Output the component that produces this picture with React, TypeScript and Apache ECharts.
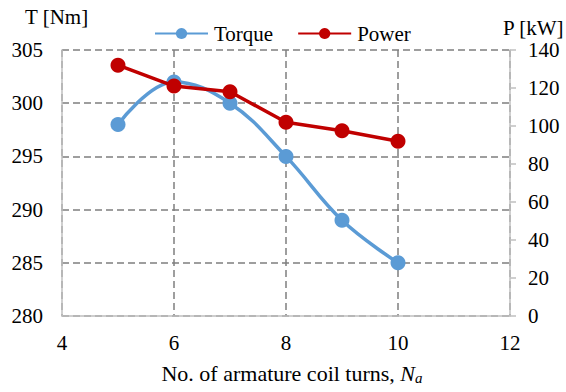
import React, { useEffect, useRef } from "react";
import * as echarts from "echarts";

const turns = [5, 6, 7, 8, 9, 10];
const torque = [298, 302, 300, 295, 289, 285];
const power = [132, 121, 118, 102, 97.5, 92];
const xTicks = [4, 12, 2];
const tTicks = [280, 305, 5];
const pTicks = [0, 140, 20];
const leftTitle = "T [Nm]";
const rightTitle = "P [kW]";

const FONT = "Liberation Serif";

export default function App() {
  const ref = useRef<HTMLDivElement>(null);
  useEffect(() => {
    if (!ref.current) return;
    const chart = echarts.init(ref.current, undefined, { renderer: "svg" });
    const axisLine = { show: true, lineStyle: { color: "#BFBFBF", width: 1.5 } };
    const label = { color: "#000", fontFamily: FONT, fontSize: 21 };
    const split = { show: true, lineStyle: { color: "#7F7F7F", width: 1.5, type: [7, 4] } };
    chart.setOption({
      animation: false,
      textStyle: { fontFamily: FONT },
      grid: { left: 62, right: 56, top: 50, bottom: 76, containLabel: false, outerBoundsMode: "none" },
      graphic: [
        {
          type: "text",
          x: 25,
          y: 17,
          style: { text: leftTitle, fontFamily: FONT, fontSize: 21, fill: "#000", align: "left", verticalAlign: "middle" },
        },
        {
          type: "text",
          x: 503,
          y: 28,
          style: { text: rightTitle, fontFamily: FONT, fontSize: 21, fill: "#000", align: "left", verticalAlign: "middle" },
        },
      ],
      legend: {
        left: 149,
        top: 18,
        itemWidth: 53,
        itemHeight: 14,
        itemGap: 24,
        textStyle: { ...label, padding: [0, 0, 0, 1] },
        data: ["Torque", "Power"],
      },
      xAxis: {
        type: "value",
        min: xTicks[0],
        max: xTicks[1],
        interval: xTicks[2],
        axisLine,
        axisTick: { show: false },
        axisLabel: { ...label, margin: 16 },
        splitLine: split,
        name: "No. of armature coil turns, {i|N}{s|a}",
        nameLocation: "middle",
        nameGap: 46,
        nameTextStyle: {
          ...label,
          fontSize: 22,
          padding: [0, 0, 0, 12],
          rich: {
            i: { fontFamily: FONT, fontSize: 22, fontStyle: "italic", color: "#000" },
            s: { fontFamily: FONT, fontSize: 15, fontStyle: "italic", color: "#000", padding: [8, 0, 0, 0] },
          },
        },
      },
      yAxis: [
        {
          type: "value",
          min: tTicks[0],
          max: tTicks[1],
          interval: tTicks[2],
          position: "left",
          axisLine,
          axisTick: { show: false },
          axisLabel: { ...label, margin: 19 },
          splitLine: split,
        },
        {
          type: "value",
          min: pTicks[0],
          max: pTicks[1],
          interval: pTicks[2],
          position: "right",
          axisLine,
          axisTick: { show: true, inside: false, length: 6, lineStyle: { color: "#BFBFBF", width: 1.5 } },
          axisLabel: { ...label, margin: 18 },
          splitLine: { show: false },
        },
      ],
      series: [
        {
          name: "Torque",
          type: "line",
          yAxisIndex: 0,
          smooth: 0.4,
          data: turns.map((t, i) => [t, torque[i]]),
          symbol: "circle",
          symbolSize: 15,
          lineStyle: { color: "#5B9BD5", width: 3.5 },
          itemStyle: { color: "#5B9BD5" },
          z: 3,
        },
        {
          name: "Power",
          type: "line",
          yAxisIndex: 1,
          data: turns.map((t, i) => [t, power[i]]),
          symbol: "circle",
          symbolSize: 15,
          lineStyle: { color: "#C00000", width: 3.5 },
          itemStyle: { color: "#C00000" },
          z: 4,
        },
      ],
    });
    return () => chart.dispose();
  }, []);
  return <div ref={ref} style={{ width: 566, height: 392, position: "absolute", left: 0, top: 0 }} />;
}
